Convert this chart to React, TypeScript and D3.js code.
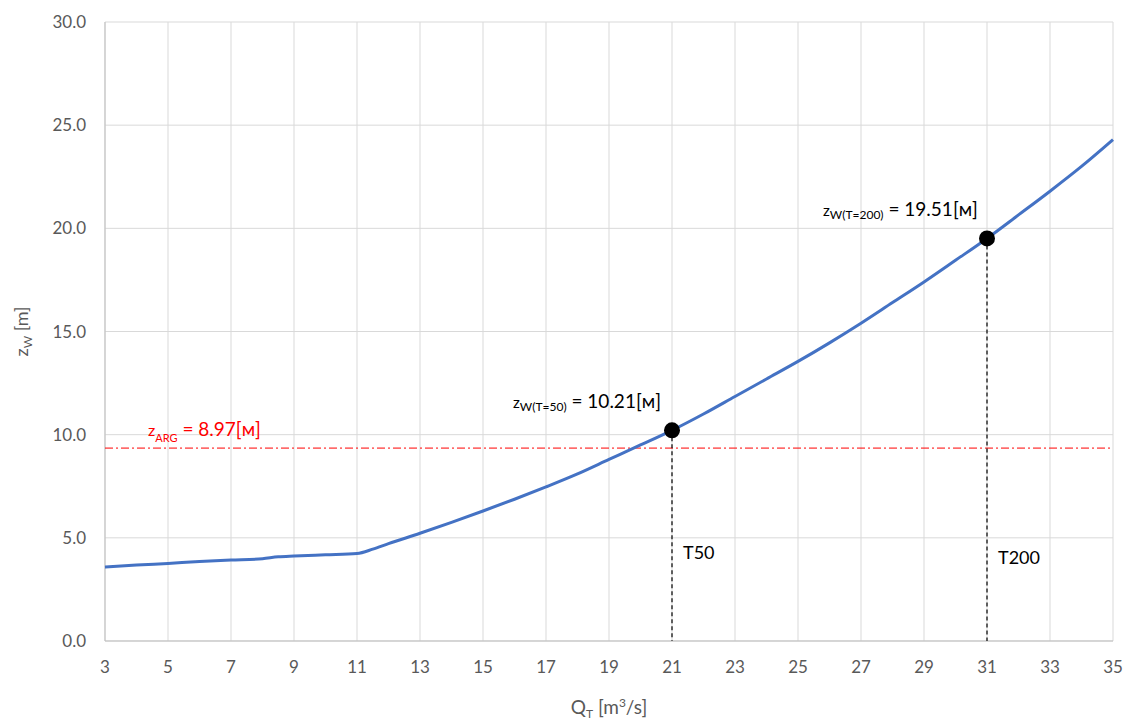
import React from 'react';
import * as d3 from 'd3';

const qValues = [3, 4, 5, 6, 7, 8, 8.5, 9, 10, 11, 11.5, 12, 13, 14, 15, 16, 17, 18, 19, 20, 21, 22, 23, 24, 25, 26, 27, 28, 29, 30, 31, 32, 33, 34, 35];
const zValues = [3.58, 3.68, 3.76, 3.85, 3.92, 3.99, 4.08, 4.12, 4.18, 4.24, 4.45, 4.72, 5.22, 5.75, 6.3, 6.87, 7.47, 8.1, 8.8, 9.5, 10.21, 11.0, 11.85, 12.7, 13.55, 14.45, 15.4, 16.4, 17.4, 18.45, 19.51, 20.65, 21.8, 23.0, 24.3];

const xTicks = [3, 5, 7, 9, 11, 13, 15, 17, 19, 21, 23, 25, 27, 29, 31, 33, 35];
const yTicks = [0, 5, 10, 15, 20, 25, 30];

const argLevel = 9.35; // drawn position of the red line
const markQ = [21, 31];
const markZ = [10.21, 19.51];
const markSub = ['W(T=50)', 'W(T=200)'];
const markVal = ['10.21', '19.51'];
const markTag = ['T50', 'T200'];

const W = 1123;
const H = 720;
const left = 105, right = 1113, top = 22, bottom = 641;
const font = 'Lato, "Open Sans", sans-serif';
const grey = '#595959';

export default function App() {
  const x = d3.scaleLinear().domain([3, 35]).range([left, right]);
  const y = d3.scaleLinear().domain([0, 30]).range([bottom, top]);

  const pts = qValues.map((q, i) => [q, zValues[i]] as [number, number]);
  const line = d3.line<[number, number]>()
    .x(d => x(d[0]))
    .y(d => y(d[1]))
    .curve(d3.curveMonotoneX);

  const labelStart = [513, 823];

  return (
    <div style={{ position: 'absolute', left: 0, top: 0 }}>
      <svg width={W} height={H} style={{ background: 'white', display: 'block' }} fontFamily={font}>
        {/* grid */}
        {xTicks.map(t => (
          <line key={'gx' + t} x1={x(t)} x2={x(t)} y1={top} y2={bottom} stroke="#d9d9d9" strokeWidth={1} />
        ))}
        {yTicks.map(t => (
          <line key={'gy' + t} x1={left} x2={right} y1={y(t)} y2={y(t)} stroke="#d9d9d9" strokeWidth={1} />
        ))}
        <line x1={left} x2={left} y1={top} y2={bottom} stroke="#bfbfbf" strokeWidth={1} />
        <line x1={left} x2={right} y1={bottom} y2={bottom} stroke="#bfbfbf" strokeWidth={1} />

        {/* tick labels */}
        {yTicks.map(t => (
          <text key={'ty' + t} x={86} y={y(t) + 6} textAnchor="end" fontSize={17} fill={grey}>{t.toFixed(1)}</text>
        ))}
        {xTicks.map(t => (
          <text key={'tx' + t} x={x(t)} y={673} textAnchor="middle" fontSize={17} fill={grey}>{t}</text>
        ))}

        {/* axis titles */}
        <text transform={`translate(28, ${(top + bottom) / 2}) rotate(-90)`} textAnchor="middle" fontSize={18} fill={grey}>
          z<tspan fontSize={12} dy={4}>W</tspan><tspan dy={-4}> [m]</tspan>
        </text>
        <text x={(left + right) / 2} y={714} textAnchor="middle" fontSize={19} fill={grey}>
          Q<tspan fontSize={12} dy={4}>T</tspan><tspan dy={-4}> [m</tspan><tspan fontSize={12} dy={-7}>3</tspan><tspan dy={7}>/s]</tspan>
        </text>

        {/* red reference line */}
        <line x1={left} x2={right} y1={y(argLevel)} y2={y(argLevel)} stroke="#ff0000" strokeWidth={1} strokeDasharray="8 3 2 3" />
        <text x={148} y={436} fontSize={19} fill="#ff0000">
          <tspan fontSize={16}>z</tspan><tspan fontSize={11} dy={6}>ARG</tspan><tspan dy={-6}> = 8.97[м]</tspan>
        </text>

        {/* dashed verticals */}
        {markQ.map((q, i) => (
          <line key={'v' + i} x1={x(q)} x2={x(q)} y1={y(markZ[i])} y2={bottom} stroke="#000" strokeWidth={1.2} strokeDasharray="4 3" />
        ))}

        {/* curve */}
        <path d={line(pts) || ''} fill="none" stroke="#4472C4" strokeWidth={3} strokeLinejoin="round" />

        {/* marked points */}
        {markQ.map((q, i) => (
          <circle key={'c' + i} cx={x(q)} cy={y(markZ[i])} r={8} fill="#000" />
        ))}
        {markQ.map((q, i) => (
          <text key={'l' + i} x={labelStart[i]} y={y(markZ[i]) - 22} fontSize={19} fill="#000">
            <tspan fontSize={15}>z</tspan><tspan fontSize={12} dy={3}>{markSub[i]}</tspan><tspan dy={-3}> = {markVal[i]}[м]</tspan>
          </text>
        ))}
        {markQ.map((q, i) => (
          <text key={'t' + i} x={x(q) + 11} y={559 + i * 5} fontSize={18} fill="#000">{markTag[i]}</text>
        ))}
      </svg>
    </div>
  );
}
